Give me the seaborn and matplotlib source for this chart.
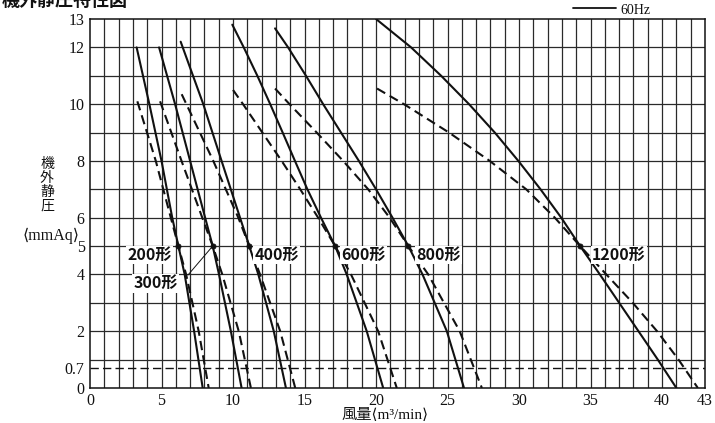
import matplotlib
matplotlib.use("Agg")
import matplotlib.pyplot as plt
from matplotlib.lines import Line2D
import seaborn as sns
import pandas as pd

# ---- fan performance data: static pressure (mmAq) vs air volume (m3/min) ----
models = ["200形", "300形", "400形", "600形", "800形", "1200形"]

# 60Hz curves (solid)
q200_60 = [3.26, 4.15, 5.0, 5.75, 6.18, 6.62, 7.28, 7.88]
p200_60 = [12.0, 10.0, 8.0, 6.0, 5.0, 4.0, 2.0, 0.0]
q300_60 = [4.83, 5.95, 7.0, 8.05, 8.58, 9.02, 9.85, 10.6]
p300_60 = [12.0, 10.0, 8.0, 6.0, 5.0, 4.0, 2.0, 0.0]
q400_60 = [6.34, 7.92, 9.2, 10.49, 11.14, 11.77, 12.85, 13.7]
p400_60 = [12.2, 10.0, 8.0, 6.0, 5.0, 4.0, 2.0, 0.0]
q600_60 = [9.95, 10.75, 11.7, 12.6, 13.47, 14.33, 15.2, 16.15, 17.14, 17.95, 19.35, 20.5]
p600_60 = [12.8, 12.0, 11.0, 10.0, 9.0, 8.0, 7.0, 6.0, 5.0, 4.0, 2.0, 0.0]
q800_60 = [12.94, 13.85, 15.1, 16.3, 17.55, 18.8, 20.0, 21.15, 22.26, 23.25, 24.95, 26.15]
p800_60 = [12.67, 12.0, 11.0, 10.0, 9.0, 8.0, 7.0, 6.0, 5.0, 4.0, 2.0, 0.0]
q1200_60 = [20.0, 22.45, 24.55, 26.5, 28.3, 29.95, 31.5, 32.95, 34.27, 35.65, 37.0, 38.35, 39.7, 41.0]
p1200_60 = [13.0, 12.0, 11.0, 10.0, 9.0, 8.0, 7.0, 6.0, 5.0, 4.0, 3.0, 2.0, 1.0, 0.0]

# 50Hz curves (dashed)
q200_50 = [3.31, 4.6, 5.65, 6.18, 6.72, 7.6, 8.3]
p200_50 = [10.1, 8.0, 6.0, 5.0, 4.0, 2.0, 0.0]
q300_50 = [4.9, 6.4, 7.85, 8.58, 9.25, 10.4, 11.25]
p300_50 = [10.1, 8.0, 6.0, 5.0, 4.0, 2.0, 0.0]
q400_50 = [6.41, 8.62, 10.37, 11.14, 11.89, 13.3, 14.35]
p400_50 = [10.35, 8.0, 6.0, 5.0, 4.0, 2.0, 0.0]
q600_50 = [10.0, 10.7, 12.05, 13.4, 14.7, 15.95, 17.14, 18.25, 20.15, 21.45]
p600_50 = [10.5, 10.0, 9.0, 8.0, 7.0, 6.0, 5.0, 4.0, 2.0, 0.0]
q800_50 = [12.94, 13.95, 15.85, 17.7, 19.45, 20.95, 22.26, 23.65, 25.85, 27.4]
p800_50 = [10.55, 10.0, 9.0, 8.0, 7.0, 6.0, 5.0, 4.0, 2.0, 0.0]
q1200_50 = [20.07, 21.95, 25.1, 27.95, 30.5, 32.5, 34.27, 36.1, 37.95, 39.65, 41.15, 42.5]
p1200_50 = [10.55, 10.0, 9.0, 8.0, 7.0, 6.0, 5.0, 4.0, 3.0, 2.0, 1.0, 0.0]

# rated points (where 50Hz and 60Hz curves meet)
rated_q = [6.18, 8.58, 11.14, 17.14, 22.26, 34.27]
rated_p = [5.0, 5.0, 5.0, 5.0, 5.0, 5.0]

x_ticks = [0, 5, 10, 15, 20, 25, 30, 35, 40, 43]
y_ticks = [0, 0.7, 2, 4, 5, 6, 8, 10, 12, 13]
y_tick_labels = ["0", "0.7", "2", "4", "5", "6", "8", "10", "12", "13"]

curves_60 = [(q200_60, p200_60), (q300_60, p300_60), (q400_60, p400_60),
             (q600_60, p600_60), (q800_60, p800_60), (q1200_60, p1200_60)]
curves_50 = [(q200_50, p200_50), (q300_50, p300_50), (q400_50, p400_50),
             (q600_50, p600_50), (q800_50, p800_50), (q1200_50, p1200_50)]

rows = []
for name, (q, p) in zip(models, curves_60):
    rows += [dict(model=name, hz="60Hz", q=a, p=b) for a, b in zip(q, p)]
for name, (q, p) in zip(models, curves_50):
    rows += [dict(model=name, hz="50Hz", q=a, p=b) for a, b in zip(q, p)]
df = pd.DataFrame(rows)
df["curve"] = df["model"] + df["hz"]

sns.set_theme(style="white")
plt.rcParams["font.family"] = ["Noto Sans CJK JP", "DejaVu Sans"]

W, H = 715, 423
fig = plt.figure(figsize=(W / 100, H / 100), dpi=100)
fig.patch.set_facecolor("white")
ax = fig.add_axes([90 / W, 35 / H, 615 / W, 369 / H])

ink = "#111111"
grid_ink = "#2a2a2a"

# graph-paper grid: every 1 m3/min and every 1 mmAq
for gx in range(1, 43):
    ax.axvline(gx, color=grid_ink, lw=0.9, zorder=0.5)
for gy in range(1, 13):
    ax.axhline(gy, color=grid_ink, lw=0.9, zorder=0.5)
ax.axhline(0.7, color=ink, lw=1.0, ls=(0, (6, 3)), zorder=1)

sns.lineplot(data=df, x="q", y="p", units="curve", style="hz",
             dashes={"60Hz": "", "50Hz": (4.5, 2.5)}, color=ink,
             estimator=None, sort=False, lw=1.5, legend=False, ax=ax)
sns.scatterplot(x=rated_q, y=rated_p, color=ink, s=14, edgecolor=ink,
                linewidth=0.5, zorder=5, ax=ax)

ax.set_xlim(0, 43)
ax.set_ylim(0, 13)
ax.set_xticks(x_ticks)
ax.set_yticks(y_ticks)
ax.set_yticklabels(y_tick_labels)
ax.tick_params(which="major", direction="out", length=3, width=0.8, color=ink,
               pad=0.8, labelsize=11.5, labelcolor=ink)
for lab in ax.get_xticklabels() + ax.get_yticklabels():
    lab.set_fontfamily("Liberation Serif")
for s in ax.spines.values():
    s.set_color(ink)
    s.set_linewidth(1.1)
ax.set_xlabel("")
ax.set_ylabel("")

# model labels beside the rated points (white patch hides the grid)
lab_kw = dict(fontsize=11.5, fontweight="bold", color=ink, va="center",
              family=["Noto Sans CJK JP", "DejaVu Sans"], zorder=4,
              bbox=dict(boxstyle="square,pad=0.08", fc="white", ec="none"))
ax.text(2.6, 4.68, "200形", ha="left", **lab_kw)
ax.text(3.05, 3.69, "300形", ha="left", **lab_kw)
ax.plot([6.85, rated_q[1]], [3.98, rated_p[1]], color=ink, lw=0.7, zorder=4)
ax.text(11.5, 4.68, "400形", ha="left", **lab_kw)
ax.text(17.6, 4.68, "600形", ha="left", **lab_kw)
ax.text(22.8, 4.68, "800形", ha="left", **lab_kw)
ax.text(35.1, 4.68, "1200形", ha="left", **lab_kw)

# axis titles
fig.text(47 / W, 1 - 185 / H, "機\n外\n静\n圧", ha="center", va="center",
         fontsize=10, linespacing=1.0, color=ink)
fig.text(51 / W, 1 - 236 / H, "⟨mmAq⟩", ha="center", va="center",
         fontsize=11.5, color=ink,
         family=["Liberation Serif", "DejaVu Sans", "Noto Sans CJK JP"])
fig.text(385 / W, 1 - 415 / H, "風量⟨m³/min⟩", ha="center", va="center",
         fontsize=11, color=ink,
         family=["Liberation Serif", "Noto Sans CJK JP", "DejaVu Sans"])

# chart heading and frequency key at the top edge
fig.text(2 / W, 1.0, "機外静圧特性図", ha="left", va="center", fontsize=13,
         fontweight="bold", color=ink)
fig.add_artist(Line2D([573 / W, 616 / W], [1 - 8 / H, 1 - 8 / H],
                      color=ink, lw=1.3, transform=fig.transFigure))
fig.text(620 / W, 1 - 10 / H, "60Hz", ha="left", va="center", fontsize=10,
         family="Liberation Serif", color=ink)

fig.savefig("out.png", dpi=100)
